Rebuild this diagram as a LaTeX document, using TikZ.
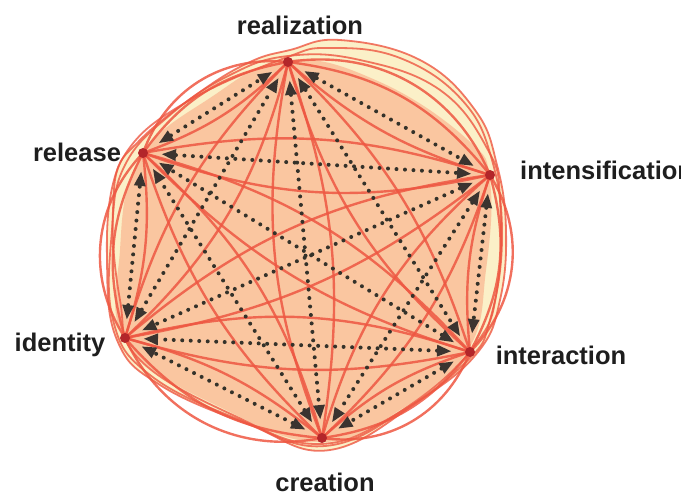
\documentclass[tikz,border=0pt]{standalone}
\usepackage{fontspec}
\setmainfont{Liberation Sans}
\usetikzlibrary{arrows.meta}
\definecolor{peach}{HTML}{FAC6A0}
\definecolor{cream}{HTML}{FBF0C8}
\definecolor{redline}{HTML}{EE5742}
\definecolor{dotc}{HTML}{34322A}
\definecolor{tipc}{HTML}{3B3430}
\definecolor{nodered}{HTML}{B3262A}
\definecolor{labc}{HTML}{1E1E1E}
\tikzset{
  redl/.style={draw=redline, line width=2.4pt, opacity=0.85},
  redo/.style={draw=redline, line width=1.8pt, opacity=0.8},
  dotl/.style={draw=dotc, line width=4pt, line cap=round, dash pattern=on 0pt off 8.5pt,
    shorten >=19pt, shorten <=19pt,
    {Triangle[length=14pt,width=12pt,fill=tipc,line width=0pt]}-{Triangle[length=14pt,width=12pt,fill=tipc,line width=0pt]}},
  lab/.style={font=\bfseries\fontsize{25.5}{27}\selectfont, text=labc, inner sep=0pt},
  nblob/.style={fill=nodered, draw=none}
}
\begin{document}
\begin{tikzpicture}[x=1pt,y=-1pt]
\useasboundingbox (0,0) rectangle (681,495);
% node points
\coordinate (rea) at (288,62);
\coordinate (int) at (490,175);
\coordinate (inter) at (470,352);
\coordinate (cre) at (322,438);
\coordinate (ide) at (125,338);
\coordinate (rel) at (143,153);
% background blobs
\fill[cream] plot[smooth cycle, tension=0.7] coordinates {
 (290,50) (340,40) (420,60) (475,110) (497,165) (506,230) (500,300) (478,352)
 (420,400) (330,450) (250,425) (160,385) (117,340) (107,260) (114,180) (140,140) (200,92) (250,62)};
\fill[peach] plot[smooth cycle, tension=0.7] coordinates {
 (288,60) (380,82) (468,140) (490,182) (486,270) (468,350) (400,410) (322,442)
 (230,412) (128,345) (120,250) (140,158) (210,98)};
% outer red loops
\draw[redo] plot[smooth cycle, tension=0.7] coordinates {
 (290,50) (340,40) (420,60) (475,110) (497,165) (506,230) (500,300) (478,352)
 (420,400) (330,450) (250,425) (160,385) (117,340) (107,260) (114,180) (140,140) (200,92) (250,62)};
\draw[redo] plot[smooth cycle, tension=0.7] coordinates {
 (288,56) (360,60) (440,90) (488,150) (500,200) (497,290) (475,345)
 (410,405) (325,446) (240,420) (150,375) (113,320) (112,230) (125,165) (170,115) (230,75)};
\draw[redo] plot[smooth cycle, tension=0.7] coordinates {
 (285,58) (330,48) (400,58) (462,100) (492,160) (502,240) (490,320) (468,360)
 (400,412) (320,444) (235,416) (140,360) (120,300) (113,210) (128,150) (190,100)};
% red edges: hexagon sides
\foreach \a/\b in {rea/int, int/inter, inter/cre, cre/ide, ide/rel, rel/rea} {
  \draw[redl] (\a) to[bend left=22] (\b);
  \draw[redl] (\a) to[bend left=38] (\b);
  \draw[redl] (\a) to[bend right=12] (\b);
}
% red edges: diagonals
\foreach \a/\b in {rea/inter, int/cre, inter/ide, cre/rel, ide/rea, rel/int, rea/cre, int/ide, inter/rel} {
  \draw[redl] (\a) to[bend left=14] (\b);
  \draw[redl] (\a) to[bend right=16] (\b);
}
% dotted arrows, all pairs
\foreach \a/\b in {rea/int, int/inter, inter/cre, cre/ide, ide/rel, rel/rea,
  rea/inter, int/cre, inter/ide, cre/rel, ide/rea, rel/int, rea/cre, int/ide, inter/rel} {
  \draw[dotl] (\a) -- (\b);
}
% node blobs
\foreach \n in {rea,int,inter,cre,ide,rel} {
  \fill[nblob] (\n) circle (5pt);
}
% labels
\node[lab] (lrea) at (300,25) {realization};
\node[lab] (lrel) at (77,152) {release};
\node[lab, anchor=west] (lint) at (520,170) {intensification};
\node[lab] (lide) at (60,345) {identity};
\node[lab] (linter) at (561,355) {interaction};
\node[lab] (lcre) at (325,482) {creation};
\end{tikzpicture}
\end{document}
